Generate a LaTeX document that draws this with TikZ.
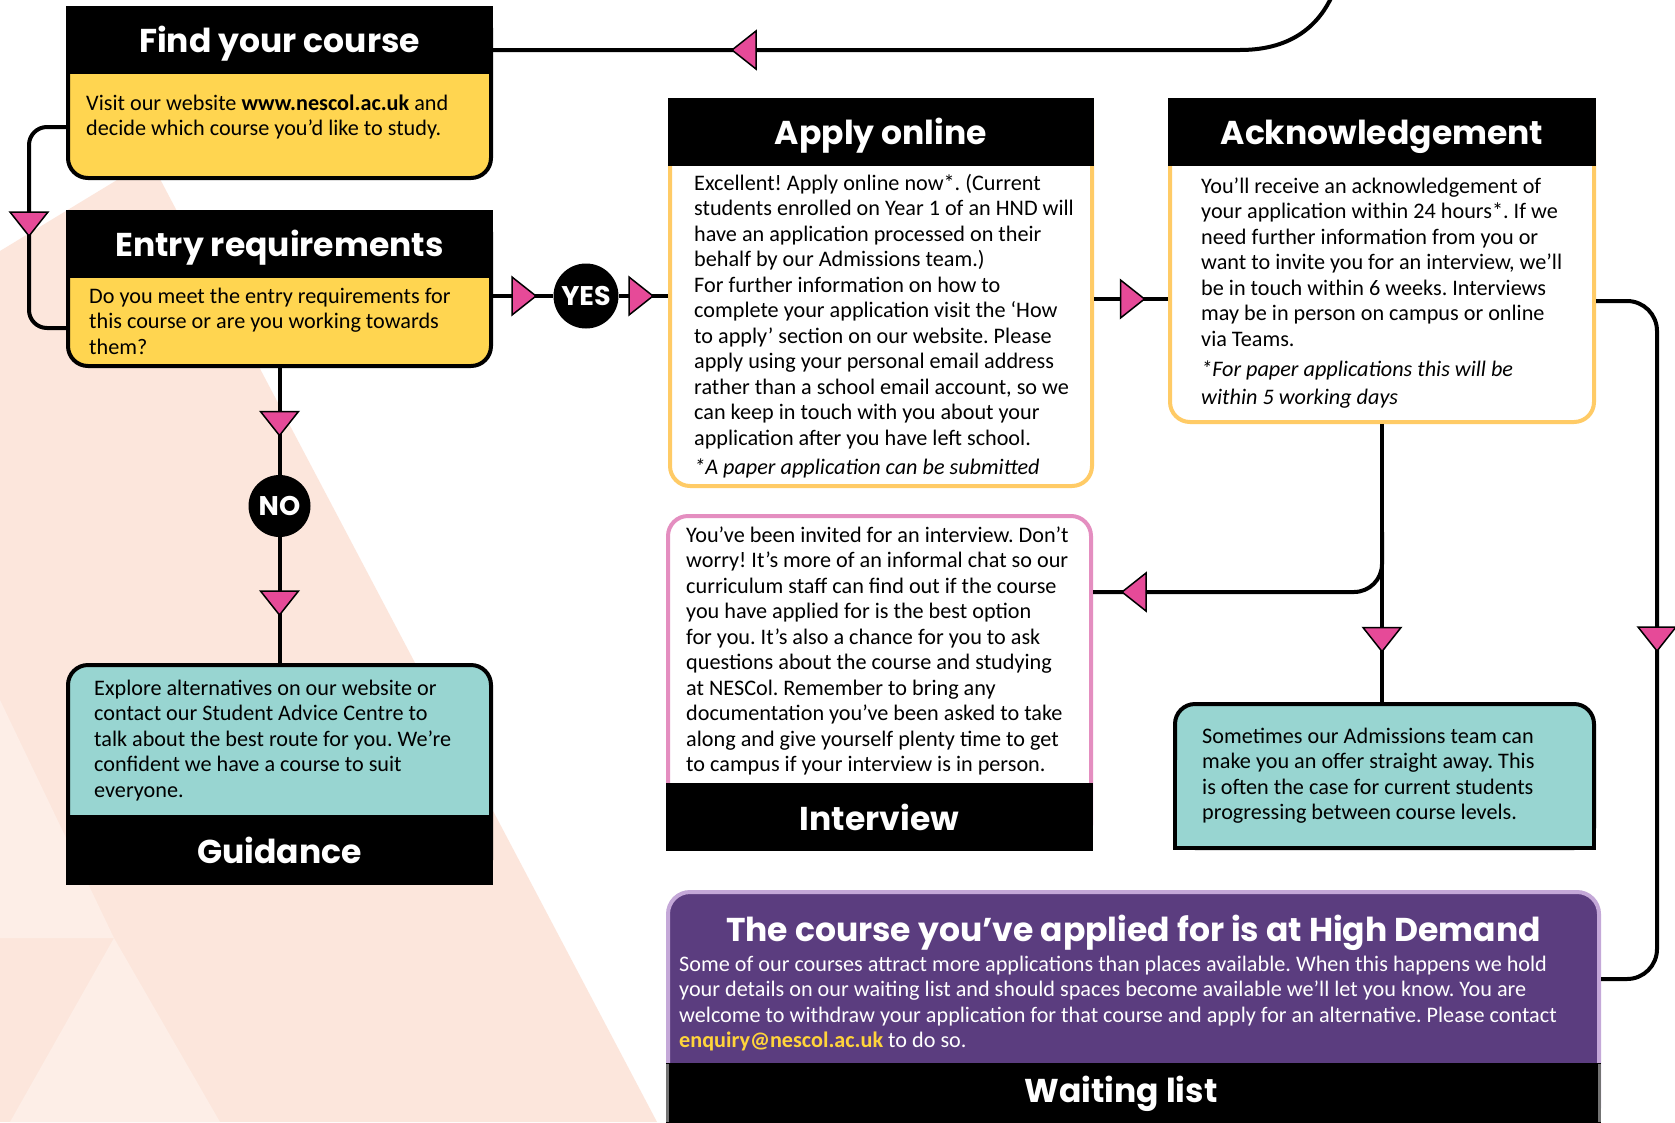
\documentclass[tikz,border=0pt]{standalone}
\usepackage{fontspec}
\setmainfont{Carlito}
\newfontfamily\hfont{Poppins}
\usetikzlibrary{calc}
\definecolor{peach}{HTML}{FCE6DC}
\definecolor{peachL}{HTML}{FDEEE7}
\definecolor{yel}{HTML}{FFD550}
\definecolor{ylb}{HTML}{FFCB66}
\definecolor{teal}{HTML}{98D5D1}
\definecolor{pinkb}{HTML}{E48EC0}
\definecolor{purp}{HTML}{5B3D7F}
\definecolor{lav}{HTML}{C4A8D8}
\definecolor{tripink}{HTML}{E64A98}
\definecolor{mail}{HTML}{FFD43B}
\newcommand{\trD}[2]{\filldraw[tri] (#1-19,#2-12) -- (#1+19,#2-12) -- (#1,#2+12) -- cycle;}
\newcommand{\trL}[2]{\filldraw[tri] (#1+12,#2-19) -- (#1+12,#2+19) -- (#1-12,#2) -- cycle;}
\newcommand{\trR}[2]{\filldraw[tri] (#1-12,#2-19) -- (#1-12,#2+19) -- (#1+12,#2) -- cycle;}
\tikzset{
 conn/.style={line width=4pt, draw=black},
 tri/.style={fill=tripink, draw=black, line width=1.5pt, line join=miter},
 hdr/.style={fill=black, text=white, inner sep=0pt, font=\hfont\bfseries\fontsize{33}{33}\selectfont},
 hdrlow/.style={hdr, text height=25pt, text depth=0pt},
 btxt/.style={anchor=north west, inner sep=0pt, align=left, font=\fontsize{22.2}{25.5}\selectfont},
 area/.style={inner sep=0pt, draw=none},
 bord/.style={line width=4pt, rounded corners=20pt},
 yn/.style={circle, fill=black, inner sep=0pt, text=white, font=\hfont\bfseries\fontsize{27}{27}\selectfont},
}
\frenchspacing
\begin{document}
\frenchspacing
\begin{tikzpicture}[x=1pt,y=-1pt]
\useasboundingbox (0,0) rectangle (1675,1122);
\clip (0,0) rectangle (1675,1122);
% background
\fill[white] (0,0) rectangle (1675,1122);
\fill[peach] (150,160) -- (0,251) -- (0,1122) -- (657,1122) -- cycle;
\fill[peachL] (0,700) -- (114,938) -- (0,938) -- cycle;
\fill[peachL] (114,938) -- (10,1122) -- (220,1122) -- cycle;

% ---- Find your course
\draw[bord, fill=yel] (68,8) rectangle (491,178);
\node[hdrlow, minimum width=427pt, minimum height=68pt] (findH) at (279.5,40) {Find your course};
\node[area, minimum width=427pt, minimum height=106pt] (findB) at (279.5,127) {};
\node[btxt] (findT) at (86,92) {\strut Visit our website \textbf{www.nescol.ac.uk} and\\decide which course you’d like to study.};

% ---- Entry requirements
\draw[bord, fill=yel] (68,212) rectangle (491,366);
\node[hdrlow, minimum width=427pt, minimum height=68pt] (entryH) at (279.5,244) {Entry requirements};
\node[area, minimum width=427pt, minimum height=90pt] (entryB) at (279.5,323) {};
\node[btxt] (entryT) at (89,285) {\strut Do you meet the entry requirements for\\this course or are you working towards\\them?};

% ---- Apply online
\draw[bord, draw=ylb, fill=white] (670,100) rectangle (1092,486);
\node[hdrlow, minimum width=426pt, minimum height=68pt] (applyH) at (881,132) {Apply online};
\node[area, minimum width=426pt, minimum height=322pt] (applyB) at (881,327) {};
\node[btxt] (applyT) at (694,172) {\strut Excellent! Apply online now*. (Current\\students enrolled on Year 1 of an HND will\\have an application processed on their\\behalf by our Admissions team.)\\For further information on how to\\complete your application visit the ‘How\\to apply’ section on our website. Please\\apply using your personal email address\\rather than a school email account, so we\\can keep in touch with you about your\\application after you have left school.\\[3.5pt]\textit{*A paper application can be submitted}};

% ---- Acknowledgement
\draw[bord, draw=ylb, fill=white] (1170,100) rectangle (1594,422);
\node[hdrlow, minimum width=428pt, minimum height=68pt] (ackH) at (1382,132) {Acknowledgement};
\node[area, minimum width=428pt, minimum height=258pt] (ackB) at (1382,295) {};
\node[btxt] (ackT) at (1201,175) {\strut You’ll receive an acknowledgement of\\your application within 24 hours*. If we\\need further information from you or\\want to invite you for an interview, we’ll\\be in touch within 6 weeks. Interviews\\may be in person on campus or online\\via Teams.\\[4.5pt]\textit{*For paper applications this will be}\\[2.5pt]\textit{within 5 working days}};

% ---- Interview
\draw[bord, draw=pinkb, fill=white] (668,516) rectangle (1091,845);
\node[hdr, minimum width=427pt, minimum height=68pt] (intH) at (879.5,817) {Interview};
\node[area, minimum width=427pt, minimum height=269pt] (intB) at (879.5,648.5) {};
\node[btxt] (intT) at (686,524) {\strut You’ve been invited for an interview. Don’t\\worry! It’s more of an informal chat so our\\curriculum staff can find out if the course\\you have applied for is the best option\\for you. It’s also a chance for you to ask\\questions about the course and studying\\at NESCol. Remember to bring any\\documentation you’ve been asked to take\\along and give yourself plenty time to get\\to campus if your interview is in person.};

% ---- Sometimes (offer)
\draw[bord, fill=teal] (1175,704) rectangle (1594,848);
\fill[teal] (1177,760) rectangle (1592,846);
\draw[line width=4pt] (1175,760) -- (1175,848) -- (1594,848) -- (1594,760);
\node[area, minimum width=423pt, minimum height=148pt] (someB) at (1384.5,776) {};
\node[btxt] (someT) at (1202,725) {\strut Sometimes our Admissions team can\\make you an offer straight away. This\\is often the case for current students\\progressing between course levels.};

% ---- Guidance
\draw[bord, fill=teal] (68,665) rectangle (491,880);
\node[hdr, minimum width=427pt, minimum height=70pt] (guidH) at (279.5,850) {Guidance};
\node[area, minimum width=427pt, minimum height=152pt] (guidB) at (279.5,739) {};
\node[btxt] (guidT) at (94,677) {\strut Explore alternatives on our website or\\contact our Student Advice Centre to\\talk about the best route for you. We’re\\confident we have a course to suit\\everyone.};

% ---- High demand / Waiting list
\draw[bord, draw=lav, fill=purp, rounded corners=22pt] (668,892) rectangle (1599,1130);
\fill[black] (666,1063) rectangle (1601,1124);
\node[inner sep=0pt, text=white, font=\hfont\bfseries\fontsize{33}{33}\selectfont] (waitH) at (1121,1094) {Waiting list};
\draw[line width=3pt, draw=black!55] (667.5,1064) -- (667.5,1122);
\draw[line width=3pt, draw=black!55] (1599.5,1064) -- (1599.5,1122);
\node[area, minimum width=935pt, minimum height=173pt] (hdB) at (1133.5,976.5) {};
\node[inner sep=0pt, text=white, font=\hfont\bfseries\fontsize{33}{33}\selectfont] (hdH) at (1133.5,933) {The course you’ve applied for is at High Demand};
\node[btxt, text=white] (hdT) at (679,953) {\strut Some of our courses attract more applications than places available. When this happens we hold\\your details on our waiting list and should spaces become available we’ll let you know. You are\\welcome to withdraw your application for that course and apply for an alternative. Please contact\\\textbf{\color{mail}enquiry@nescol.ac.uk} to do so.};

% ---- connectors
\coordinate (topexit) at (1332,-4);
\draw[conn] ([yshift=-10pt]findH.east) -- (1240,50) .. controls (1295,50) and (1320,22) .. (topexit);
\trL{744}{50}

\draw[conn, rounded corners=18pt] (findB.west) -- (29,127) -- (29,328) -- ([yshift=-5pt]entryB.west);
\trD{29}{224}

\node[yn, minimum size=65pt] (yes) at (586,296) {YES};
\draw[conn] (yes -| entryB.east) -- (yes.west);
\draw[conn] (yes.east) -- (yes -| applyB.west);
\trR{524}{296}
\trR{641}{296}

\node[yn, minimum size=62pt] (no) at (279.5,506) {NO};
\draw[conn] (entryB.south) -- (no.north);
\draw[conn] (no.south) -- (guidB.north);
\trD{279.5}{423.5}
\trD{279.5}{603}

\draw[conn] ([yshift=28pt]applyB.east) -- ([yshift=-4pt]ackB.west);
\trR{1132.5}{299}

\coordinate (brk) at (1382,592);
\draw[conn] (ackB.south) -- (ackB.south |- someB.north);
\draw[conn, rounded corners=28pt] ([yshift=60pt]brk) -- (brk) -- (brk -| intB.east);
\trL{1134}{592}
\trD{1382}{639.5}

\coordinate (rt) at (1657,301);
\coordinate (rb) at (1657,979);
\draw[conn, rounded corners=30pt] ([yshift=-6pt]ackB.east) -- (rt) -- (rb) -- (rb -| hdB.east);
\trD{1657}{639}
\end{tikzpicture}
\end{document}
